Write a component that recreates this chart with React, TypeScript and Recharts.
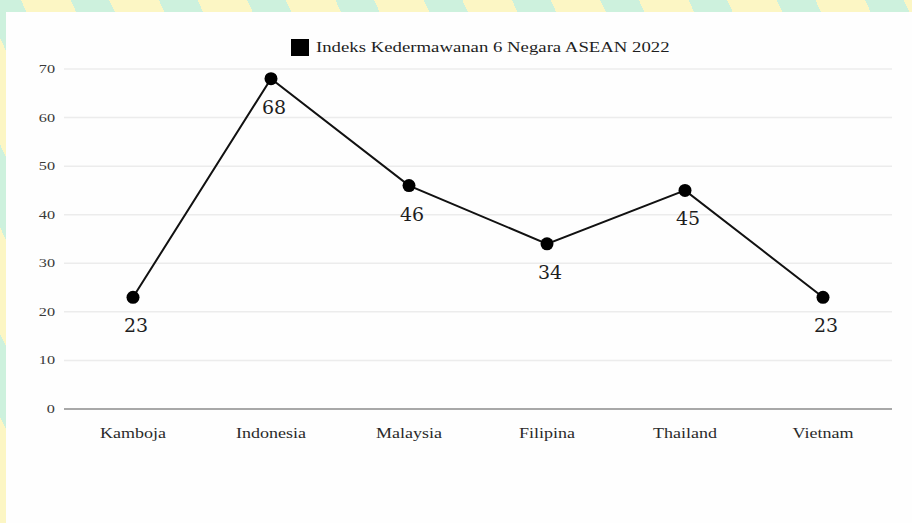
import React from 'react';
import { LineChart, Line, XAxis, YAxis, CartesianGrid } from 'recharts';

const countries = ['Kamboja', 'Indonesia', 'Malaysia', 'Filipina', 'Thailand', 'Vietnam'];
const indexValues = [23, 68, 46, 34, 45, 23];
const yTicks = [0, 10, 20, 30, 40, 50, 60, 70];
const seriesName = 'Indeks Kedermawanan 6 Negara ASEAN 2022';

const data = countries.map((name, i) => ({ name, value: indexValues[i] }));

const SERIF = '"Liberation Serif", "Times New Roman", serif';

function XTick({ x, y, payload }: any) {
  return (
    <text
      transform={`translate(${x},${y + 21}) scale(1.2,1)`}
      textAnchor="middle"
      fill="#2a2a2a"
      fontFamily={SERIF}
      fontSize={15}
    >
      {payload.value}
    </text>
  );
}

function YTick({ x, y, payload }: any) {
  return (
    <text
      transform={`translate(${x - 1},${y + 4}) scale(1.3,1)`}
      textAnchor="end"
      fill="#3a3a3a"
      fontFamily={SERIF}
      fontSize={12.5}
    >
      {payload.value}
    </text>
  );
}

function ValueLabel({ x, y, value }: any) {
  return (
    <text
      x={x + 3}
      y={y + 35}
      textAnchor="middle"
      fill="#1e1e1e"
      fontFamily='"DejaVu Serif", serif'
      fontSize={19}
    >
      {value}
    </text>
  );
}

export default function App() {
  return (
    <div
      style={{
        position: 'absolute',
        left: 0,
        top: 0,
        width: 912,
        height: 523,
        overflow: 'hidden',
        background:
          'repeating-linear-gradient(65deg, #fcf6c4 0px, #fcf6c4 45px, #cdf1dd 45px, #cdf1dd 80px)',
      }}
    >
      <div
        style={{
          position: 'absolute',
          left: 6,
          top: 12,
          width: 906,
          height: 511,
          background: '#fefefe',
        }}
      />
      <div
        style={{
          position: 'absolute',
          left: 291,
          top: 38,
          height: 18,
          display: 'flex',
          alignItems: 'center',
          fontFamily: SERIF,
          fontSize: 15,
          color: '#1e1e1e',
        }}
      >
        <span style={{ width: 18, height: 17, background: '#000', display: 'inline-block', marginRight: 7 }} />
        <span style={{ display: 'inline-block', transform: 'scale(1.25,1)', transformOrigin: 'left center', whiteSpace: 'nowrap' }}>
          {seriesName}
        </span>
      </div>
      <div style={{ position: 'absolute', left: 0, top: 0 }}>
        <LineChart
          width={912}
          height={523}
          data={data}
          margin={{ top: 69, right: 20, bottom: 84, left: 0 }}
        >
          <CartesianGrid stroke="#ececec" strokeWidth={1.5} vertical={false} />
          <XAxis
            dataKey="name"
            height={30}
            padding={{ left: 69, right: 69 }}
            axisLine={{ stroke: '#a8a8a8', strokeWidth: 2 }}
            tickLine={false}
            tick={<XTick />}
            interval={0}
          />
          <YAxis
            width={64}
            domain={[0, 70]}
            ticks={yTicks}
            axisLine={false}
            tickLine={false}
            tick={<YTick />}
          />
          <Line
            dataKey="value"
            name={seriesName}
            stroke="#111"
            strokeWidth={2}
            dot={{ r: 6.5, fill: '#000', stroke: '#000', strokeWidth: 0 }}
            activeDot={false}
            label={<ValueLabel />}
            isAnimationActive={false}
          />
        </LineChart>
      </div>
    </div>
  );
}
